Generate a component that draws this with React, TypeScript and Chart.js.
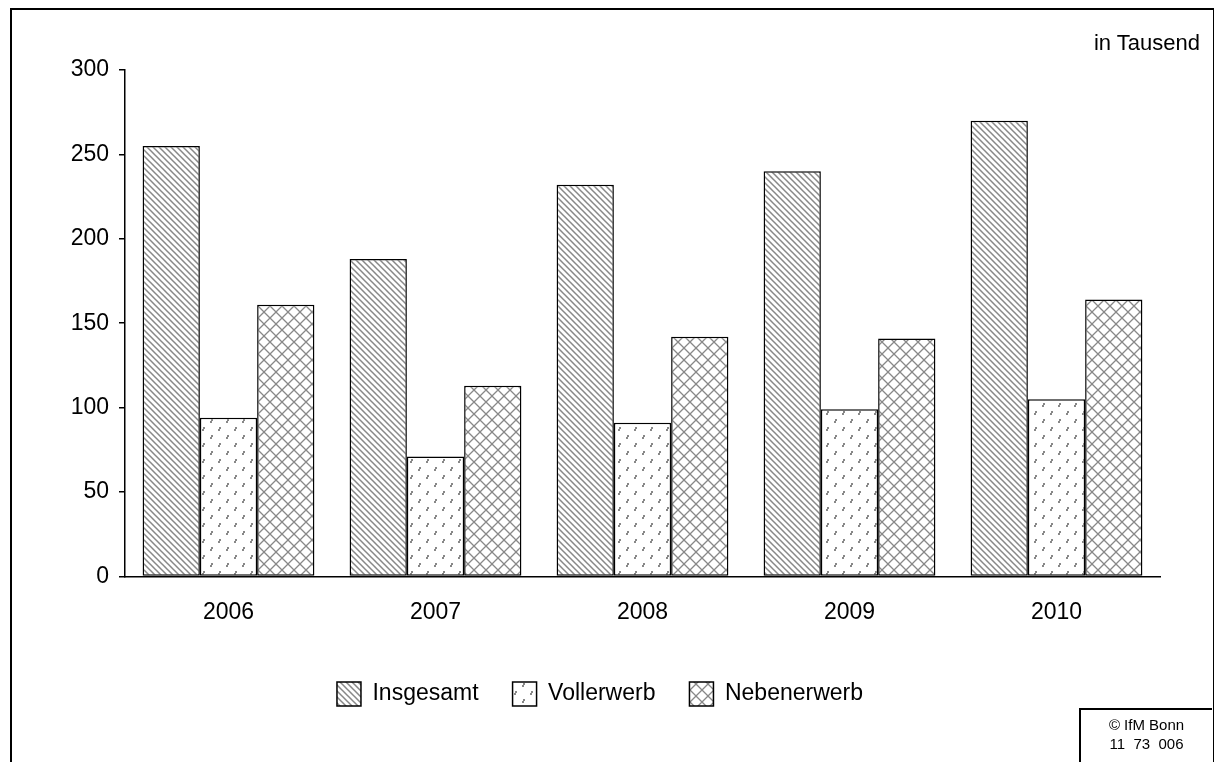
import { useEffect, useRef } from "react";
import { Chart, registerables } from "chart.js";

Chart.register(...registerables);

const years = ["2006", "2007", "2008", "2009", "2010"];
const insgesamt = [255, 188, 232, 240, 270];
const vollerwerb = [94, 71, 91, 99, 105];
const nebenerwerb = [161, 113, 142, 141, 164];

function makePattern(kind: string): CanvasPattern | string {
  const c = document.createElement("canvas");
  const s = kind === "dots" ? 16 : kind === "cross" ? 12 : 6;
  c.width = s;
  c.height = s;
  const g = c.getContext("2d");
  if (!g) return "#fff";
  g.fillStyle = "#fff";
  g.fillRect(0, 0, s, s);
  g.strokeStyle = "#888";
  g.fillStyle = "#888";
  g.lineWidth = 1.5;
  if (kind === "diag") {
    g.beginPath();
    g.moveTo(0, 0);
    g.lineTo(s, s);
    g.moveTo(-s, 0);
    g.lineTo(s, 2 * s);
    g.moveTo(0, -s);
    g.lineTo(2 * s, s);
    g.stroke();
  } else if (kind === "cross") {
    g.lineWidth = 1.3;
    g.beginPath();
    g.moveTo(0, 0);
    g.lineTo(s, s);
    g.moveTo(s, 0);
    g.lineTo(0, s);
    g.stroke();
  } else {
    g.fillRect(3, 3, 2, 2);
    g.fillRect(2, 5, 2, 2);
    g.fillRect(11, 11, 2, 2);
    g.fillRect(10, 13, 2, 2);
  }
  return g.createPattern(c, "repeat") || "#fff";
}

export default function App() {
  const ref = useRef<HTMLCanvasElement>(null);

  useEffect(() => {
    if (!ref.current) return;
    const font = { family: "Liberation Sans, Arial, sans-serif", size: 23 };
    const chart = new Chart(ref.current, {
      type: "bar",
      data: {
        labels: years,
        datasets: [
          { label: "Insgesamt", data: insgesamt, backgroundColor: makePattern("diag") as any },
          { label: "Vollerwerb", data: vollerwerb, backgroundColor: makePattern("dots") as any },
          { label: "Nebenerwerb", data: nebenerwerb, backgroundColor: makePattern("cross") as any },
        ].map((d) => ({ ...d, borderColor: "#000", borderWidth: 1.5, borderSkipped: false })),
      },
      options: {
        animation: false,
        responsive: false,
        layout: { padding: { left: 40, top: 70, right: 54, bottom: 46 } },
        datasets: { bar: { categoryPercentage: 0.83, barPercentage: 1 } },
        scales: {
          x: {
            grid: { display: false, drawTicks: false },
            border: { color: "#000", width: 1.5 },
            ticks: { color: "#000", font, padding: 22 },
          },
          y: {
            min: 0,
            max: 300,
            grid: { drawOnChartArea: false, color: "#000", tickLength: 6, lineWidth: 1.5 },
            border: { color: "#000", width: 1.5 },
            ticks: { stepSize: 50, color: "#000", font, padding: 10 },
            afterFit: (s: any) => { s.width = 85; },
          },
        },
        plugins: {
          tooltip: { enabled: false },
          legend: {
            position: "bottom",
            labels: { color: "#000", font, boxWidth: 24, boxHeight: 24, padding: 34 },
          },
        },
      },
    });
    return () => chart.destroy();
  }, []);

  return (
    <div style={{ position: "absolute", left: 0, top: 0, width: 1214, height: 762, background: "#fff", fontFamily: "Liberation Sans, Arial, sans-serif" }}>
      <div style={{ position: "absolute", left: 10, top: 8, width: 1201, height: 760, borderLeft: "2px solid #000", borderTop: "2px solid #000", borderRight: "2px solid #000" }} />
      <canvas ref={ref} width={1214} height={762} style={{ position: "absolute", left: 0, top: 0 }} />
      <div style={{ position: "absolute", right: 14, top: 30, fontSize: 22 }}>in Tausend</div>
      <div style={{ position: "absolute", left: 1079, top: 708, width: 133, height: 60, borderLeft: "2px solid #000", borderTop: "2px solid #000", fontSize: 15, textAlign: "center", lineHeight: "19px", paddingTop: 5, boxSizing: "border-box" }}>
        © IfM Bonn<br />11&nbsp;&nbsp;73&nbsp;&nbsp;006
      </div>
    </div>
  );
}
